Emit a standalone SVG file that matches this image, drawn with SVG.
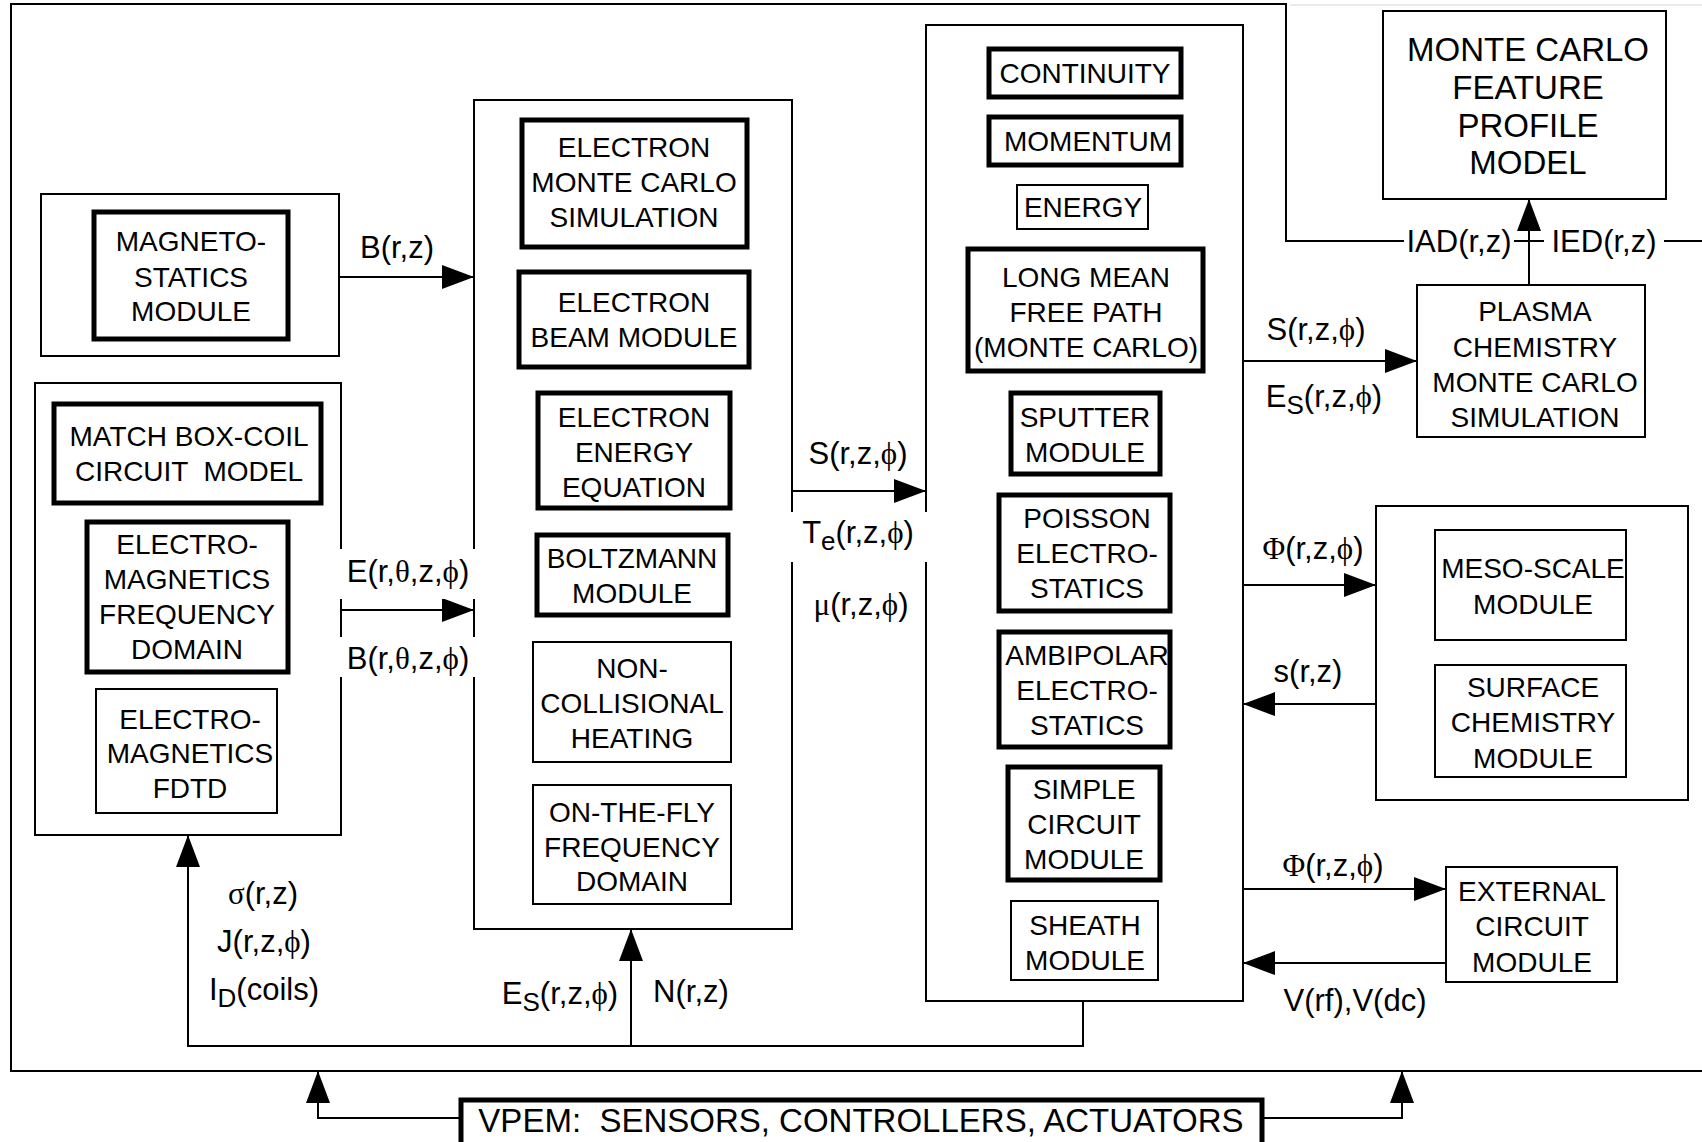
<svg xmlns="http://www.w3.org/2000/svg" width="1702" height="1142" viewBox="0 0 1702 1142">
<style>
.bg{fill:#fff}
.thin{fill:#fff;stroke:#000;stroke-width:2}
.thick{fill:#fff;stroke:#000;stroke-width:5}
.ln{fill:none;stroke:#000;stroke-width:2}
text{font-family:"Liberation Sans",Arial,sans-serif;fill:#000;white-space:pre}
.t{font-size:28px;text-anchor:middle}
.big{font-size:33px;text-anchor:middle}
.lb{font-size:31px;text-anchor:middle}
.g{font-family:"Liberation Serif","DejaVu Serif",serif}
</style>
<defs>
<marker id="ah" viewBox="0 0 32 24" refX="32" refY="12" markerWidth="32" markerHeight="24" markerUnits="userSpaceOnUse" orient="auto">
<path d="M0,0 L32,12 L0,24 z" fill="#000"/>
</marker>
</defs>
<rect width="1702" height="1142" fill="#fff"/>
<g id="frame">
<path class="ln" d="M1702,241 L1286,241 L1286,4 L11,4 L11,1071 L1702,1071"/>
<line x1="1290" y1="5" x2="1702" y2="5" stroke="#e4e4e4" stroke-width="1.5"/>
</g>
<g id="magneto">
<rect class="thin" x="41" y="194" width="298" height="162"/>
<rect class="thick" x="94" y="212" width="194" height="127"/>
<text class="t" x="191"><tspan x="191" y="251">MAGNETO-</tspan><tspan x="191" y="287">STATICS</tspan><tspan x="191" y="321">MODULE</tspan></text>
</g>
<g id="em">
<rect class="thin" x="35" y="383" width="306" height="452"/>
<rect class="thick" x="54" y="404" width="267" height="99"/>
<text class="t" xml:space="preserve"><tspan x="189" y="446">MATCH BOX-COIL</tspan><tspan x="189" y="481">CIRCUIT  MODEL</tspan></text>
<rect class="thick" x="87" y="522" width="201" height="150"/>
<text class="t"><tspan x="187" y="554">ELECTRO-</tspan><tspan x="187" y="589">MAGNETICS</tspan><tspan x="187" y="624">FREQUENCY</tspan><tspan x="187" y="659">DOMAIN</tspan></text>
<rect class="thin" x="96" y="689" width="181" height="124"/>
<text class="t"><tspan x="190" y="729">ELECTRO-</tspan><tspan x="190" y="763">MAGNETICS</tspan><tspan x="190" y="798">FDTD</tspan></text>
</g>
<g id="electron">
<rect class="thin" x="474" y="100" width="318" height="829"/>
<rect class="thick" x="522" y="120" width="225" height="127"/>
<text class="t"><tspan x="634" y="157">ELECTRON</tspan><tspan x="634" y="192">MONTE CARLO</tspan><tspan x="634" y="227">SIMULATION</tspan></text>
<rect class="thick" x="519" y="272" width="230" height="95"/>
<text class="t"><tspan x="634" y="312">ELECTRON</tspan><tspan x="634" y="347">BEAM MODULE</tspan></text>
<rect class="thick" x="538" y="393" width="192" height="115"/>
<text class="t"><tspan x="634" y="427">ELECTRON</tspan><tspan x="634" y="462">ENERGY</tspan><tspan x="634" y="497">EQUATION</tspan></text>
<rect class="thick" x="537" y="535" width="191" height="80"/>
<text class="t"><tspan x="632" y="568">BOLTZMANN</tspan><tspan x="632" y="603">MODULE</tspan></text>
<rect class="thin" x="533" y="642" width="198" height="120"/>
<text class="t"><tspan x="632" y="678">NON-</tspan><tspan x="632" y="713">COLLISIONAL</tspan><tspan x="632" y="748">HEATING</tspan></text>
<rect class="thin" x="533" y="785" width="198" height="119"/>
<text class="t"><tspan x="632" y="822">ON-THE-FLY</tspan><tspan x="632" y="857">FREQUENCY</tspan><tspan x="632" y="891">DOMAIN</tspan></text>
</g>
<g id="fluid">
<rect class="thin" x="926" y="25" width="317" height="976"/>
<rect class="thick" x="989" y="49" width="192" height="48"/>
<text class="t" x="1085" y="83">CONTINUITY</text>
<rect class="thick" x="989" y="117" width="192" height="48"/>
<text class="t" x="1088" y="151">MOMENTUM</text>
<rect class="thin" x="1017" y="185" width="131" height="44"/>
<text class="t" x="1083" y="217">ENERGY</text>
<rect class="thick" x="968" y="249" width="235" height="122"/>
<text class="t"><tspan x="1086" y="287">LONG MEAN</tspan><tspan x="1086" y="322">FREE PATH</tspan><tspan x="1086" y="357">(MONTE CARLO)</tspan></text>
<rect class="thick" x="1011" y="393" width="149" height="81"/>
<text class="t"><tspan x="1085" y="427">SPUTTER</tspan><tspan x="1085" y="462">MODULE</tspan></text>
<rect class="thick" x="999" y="495" width="171" height="116"/>
<text class="t"><tspan x="1087" y="528">POISSON</tspan><tspan x="1087" y="563">ELECTRO-</tspan><tspan x="1087" y="598">STATICS</tspan></text>
<rect class="thick" x="999" y="632" width="171" height="115"/>
<text class="t"><tspan x="1087" y="665">AMBIPOLAR</tspan><tspan x="1087" y="700">ELECTRO-</tspan><tspan x="1087" y="735">STATICS</tspan></text>
<rect class="thick" x="1008" y="767" width="152" height="113"/>
<text class="t"><tspan x="1084" y="799">SIMPLE</tspan><tspan x="1084" y="834">CIRCUIT</tspan><tspan x="1084" y="869">MODULE</tspan></text>
<rect class="thin" x="1011" y="901" width="147" height="79"/>
<text class="t"><tspan x="1085" y="935">SHEATH</tspan><tspan x="1085" y="970">MODULE</tspan></text>
</g>
<g id="feature">
<rect class="thin" x="1383" y="11" width="283" height="188"/>
<text class="big"><tspan x="1528" y="61">MONTE CARLO</tspan><tspan x="1528" y="99">FEATURE</tspan><tspan x="1528" y="137">PROFILE</tspan><tspan x="1528" y="174">MODEL</tspan></text>
</g>
<g id="plasma">
<rect class="thin" x="1417" y="285" width="228" height="152"/>
<text class="t"><tspan x="1535" y="321">PLASMA</tspan><tspan x="1535" y="357">CHEMISTRY</tspan><tspan x="1535" y="392">MONTE CARLO</tspan><tspan x="1535" y="427">SIMULATION</tspan></text>
</g>
<g id="surface">
<rect class="thin" x="1376" y="506" width="312" height="294"/>
<rect class="thin" x="1435" y="530" width="191" height="110"/>
<text class="t"><tspan x="1533" y="578">MESO-SCALE</tspan><tspan x="1533" y="614">MODULE</tspan></text>
<rect class="thin" x="1435" y="665" width="191" height="112"/>
<text class="t"><tspan x="1533" y="697">SURFACE</tspan><tspan x="1533" y="732">CHEMISTRY</tspan><tspan x="1533" y="768">MODULE</tspan></text>
</g>
<g id="external">
<rect class="thin" x="1446" y="867" width="171" height="115"/>
<text class="t"><tspan x="1532" y="901">EXTERNAL</tspan><tspan x="1532" y="936">CIRCUIT</tspan><tspan x="1532" y="972">MODULE</tspan></text>
</g>
<g id="vpem">
<rect class="thick" x="461" y="1100" width="801" height="46"/>
<text class="big" x="861" y="1132" xml:space="preserve">VPEM:  SENSORS, CONTROLLERS, ACTUATORS</text>
</g>
<g id="connectors">
<line class="ln" x1="339" y1="277" x2="474" y2="277" marker-end="url(#ah)"/>
<line class="ln" x1="341" y1="610" x2="474" y2="610" marker-end="url(#ah)"/>
<line class="ln" x1="792" y1="491" x2="926" y2="491" marker-end="url(#ah)"/>
<line class="ln" x1="1243" y1="361" x2="1417" y2="361" marker-end="url(#ah)"/>
<line class="ln" x1="1243" y1="585" x2="1376" y2="585" marker-end="url(#ah)"/>
<line class="ln" x1="1376" y1="704" x2="1243" y2="704" marker-end="url(#ah)"/>
<line class="ln" x1="1243" y1="889" x2="1446" y2="889" marker-end="url(#ah)"/>
<line class="ln" x1="1446" y1="963" x2="1243" y2="963" marker-end="url(#ah)"/>
<line class="ln" x1="1529" y1="285" x2="1529" y2="199" marker-end="url(#ah)"/>
<polyline class="ln" points="1083,1001 1083,1046 188,1046 188,835" marker-end="url(#ah)"/>
<line class="ln" x1="631" y1="1046" x2="631" y2="929" marker-end="url(#ah)"/>
<polyline class="ln" points="461,1118 318,1118 318,1071" marker-end="url(#ah)"/>
<polyline class="ln" points="1262,1118 1402,1118 1402,1071" marker-end="url(#ah)"/>
</g>
<g id="labels">
<text class="lb" x="397" y="258">B(r,z)</text>
<rect class="bg" x="337" y="549" width="143" height="50"/>
<text class="lb" x="408" y="582">E(r,<tspan class="g">θ</tspan>,z,<tspan class="g">ϕ</tspan>)</text>
<rect class="bg" x="337" y="637" width="143" height="40"/>
<text class="lb" x="408" y="669">B(r,<tspan class="g">θ</tspan>,z,<tspan class="g">ϕ</tspan>)</text>
<text class="lb" x="858" y="464">S(r,z,<tspan class="g">ϕ</tspan>)</text>
<rect class="bg" x="788" y="512" width="142" height="50"/>
<text class="lb" x="858" y="543">T<tspan font-size="26" dy="7">e</tspan><tspan dy="-7">(r,z,</tspan><tspan class="g">ϕ</tspan>)</text>
<text class="lb" x="861" y="615"><tspan class="g">μ</tspan>(r,z,<tspan class="g">ϕ</tspan>)</text>
<text class="lb" x="263" y="904"><tspan class="g">σ</tspan>(r,z)</text>
<text class="lb" x="264" y="952">J(r,z,<tspan class="g">ϕ</tspan>)</text>
<text class="lb" x="264" y="1000">I<tspan font-size="26" dy="7">D</tspan><tspan dy="-7">(coils)</tspan></text>
<text class="lb" x="560" y="1004">E<tspan font-size="26" dy="7">S</tspan><tspan dy="-7">(r,z,</tspan><tspan class="g">ϕ</tspan>)</text>
<text class="lb" x="691" y="1002">N(r,z)</text>
<text class="lb" x="1316" y="340">S(r,z,<tspan class="g">ϕ</tspan>)</text>
<text class="lb" x="1324" y="407">E<tspan font-size="26" dy="7">S</tspan><tspan dy="-7">(r,z,</tspan><tspan class="g">ϕ</tspan>)</text>
<rect class="bg" x="1404" y="225" width="110" height="34"/>
<text class="lb" x="1459" y="252">IAD(r,z)</text>
<rect class="bg" x="1544" y="225" width="120" height="34"/>
<text class="lb" x="1604" y="252">IED(r,z)</text>
<text class="lb" x="1313" y="559"><tspan class="g">Φ</tspan>(r,z,<tspan class="g">ϕ</tspan>)</text>
<text class="lb" x="1308" y="682">s(r,z)</text>
<text class="lb" x="1333" y="876"><tspan class="g">Φ</tspan>(r,z,<tspan class="g">ϕ</tspan>)</text>
<text class="lb" x="1355" y="1011">V(rf),V(dc)</text>
</g>
</svg>
